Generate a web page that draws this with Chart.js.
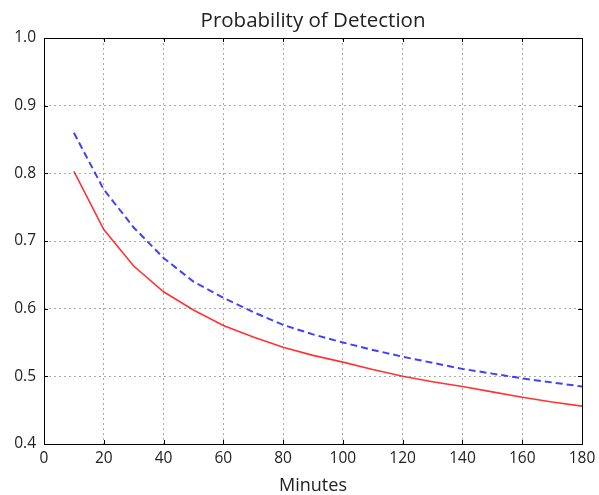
<!doctype html>
<html lang="en">
  <head>
    <script type="text/javascript" src="https://cdn.jsdelivr.net/npm/chart.js@4/dist/chart.umd.min.js"></script>
    <title>Probability of Detection</title>
    <style>
      body { margin: 0; background: #fff; }
    </style>
  </head>
  <body>
    <canvas id="detectionChart" width="599" height="495"></canvas>
  <script>
    // minutes on the x axis
    const minutes = [10, 20, 30, 40, 50, 60, 70, 80, 90, 100, 110, 120, 130, 140, 150, 160, 170, 180];
    // red solid curve
    const solidValues = [0.803, 0.717, 0.663, 0.625, 0.598, 0.575, 0.558, 0.543, 0.531, 0.521, 0.510, 0.500, 0.492, 0.485, 0.477, 0.469, 0.462, 0.456];
    // blue dashed curve
    const dashedValues = [0.860, 0.776, 0.720, 0.675, 0.640, 0.616, 0.595, 0.576, 0.562, 0.550, 0.539, 0.529, 0.520, 0.511, 0.504, 0.497, 0.491, 0.485];
    const xTicks = [0, 20, 40, 60, 80, 100, 120, 140, 160, 180];
    const yTicks = [0.4, 0.5, 0.6, 0.7, 0.8, 0.9, 1.0];
    const chartTitle = 'Probability of Detection';
    const xLabel = 'Minutes';

    const font = "'Open Sans', sans-serif";

    // box round the plot, inward ticks and the title, like matplotlib
    const frame = {
        id: 'frame',
        afterDraw(chart) {
            const ctx = chart.ctx;
            const a = chart.chartArea;
            const xs = chart.scales.x, ys = chart.scales.y;
            ctx.save();
            ctx.strokeStyle = '#000';
            ctx.lineWidth = 1;
            ctx.beginPath();
            xTicks.forEach(v => {
                const px = Math.round(xs.getPixelForValue(v)) + 0.5;
                ctx.moveTo(px, a.bottom); ctx.lineTo(px, a.bottom - 4);
                ctx.moveTo(px, a.top); ctx.lineTo(px, a.top + 4);
            });
            yTicks.forEach(v => {
                const py = Math.round(ys.getPixelForValue(v)) + 0.5;
                ctx.moveTo(a.left, py); ctx.lineTo(a.left + 4, py);
                ctx.moveTo(a.right, py); ctx.lineTo(a.right - 4, py);
            });
            ctx.stroke();
            ctx.strokeRect(Math.round(a.left) + 0.5, Math.round(a.top) + 0.5,
                           Math.round(a.right - a.left), Math.round(a.bottom - a.top));
            ctx.fillStyle = '#222';
            ctx.font = "20.5px " + font;
            ctx.textAlign = 'center';
            ctx.textBaseline = 'alphabetic';
            ctx.fillText(chartTitle, (a.left + a.right) / 2, 27);
            ctx.restore();
        }
    };

    new Chart(
        document.getElementById('detectionChart'),
        {
        type: 'line',
        data: {
            datasets: [
            {
                data: minutes.map((m, i) => ({x: m, y: solidValues[i]})),
                borderColor: 'rgba(255, 0, 0, 0.8)',
                borderWidth: 1.6,
                pointRadius: 0,
                fill: false,
                tension: 0
            },
            {
                data: minutes.map((m, i) => ({x: m, y: dashedValues[i]})),
                borderColor: 'rgba(0, 0, 255, 0.75)',
                borderWidth: 2,
                borderDash: [7, 4],
                pointRadius: 0,
                fill: false,
                tension: 0
            }
            ]
        },
        plugins: [frame],
        options: {
            responsive: false,
            animation: false,
            layout: { padding: { top: 38, right: 17, left: 0, bottom: 0 } },
            plugins: {
                legend: { display: false },
                title: { display: false },
                tooltip: { enabled: false }
            },
            scales: {
                x: {
                    type: 'linear',
                    min: 0,
                    max: 180,
                    afterBuildTicks: s => { s.ticks = xTicks.map(v => ({value: v})); },
                    afterFit: s => { s.height = 51; s.paddingLeft = 0; s.paddingRight = 0; },
                    grid: { color: '#aaa', drawTicks: false },
                    border: { display: false, dash: [2, 3] },
                    ticks: { color: '#222', font: { family: font, size: 15.5 }, padding: 5,
                             maxRotation: 0, autoSkip: false },
                    title: { display: true, text: xLabel, color: '#222',
                             font: { family: font, size: 18, lineHeight: 1.0 }, padding: { top: 0, bottom: 0 } }
                },
                y: {
                    min: 0.4,
                    max: 1.0,
                    afterBuildTicks: s => { s.ticks = yTicks.map(v => ({value: v})); },
                    afterFit: s => { s.width = 44; s.paddingTop = 0; s.paddingBottom = 0; },
                    grid: { color: '#aaa', drawTicks: false },
                    border: { display: false, dash: [2, 3] },
                    ticks: { color: '#222', font: { family: font, size: 15.5 }, padding: 8,
                             autoSkip: false, callback: v => v.toFixed(1) }
                }
            }
        }
        }
    );
  </script>
  </body>
</html>
